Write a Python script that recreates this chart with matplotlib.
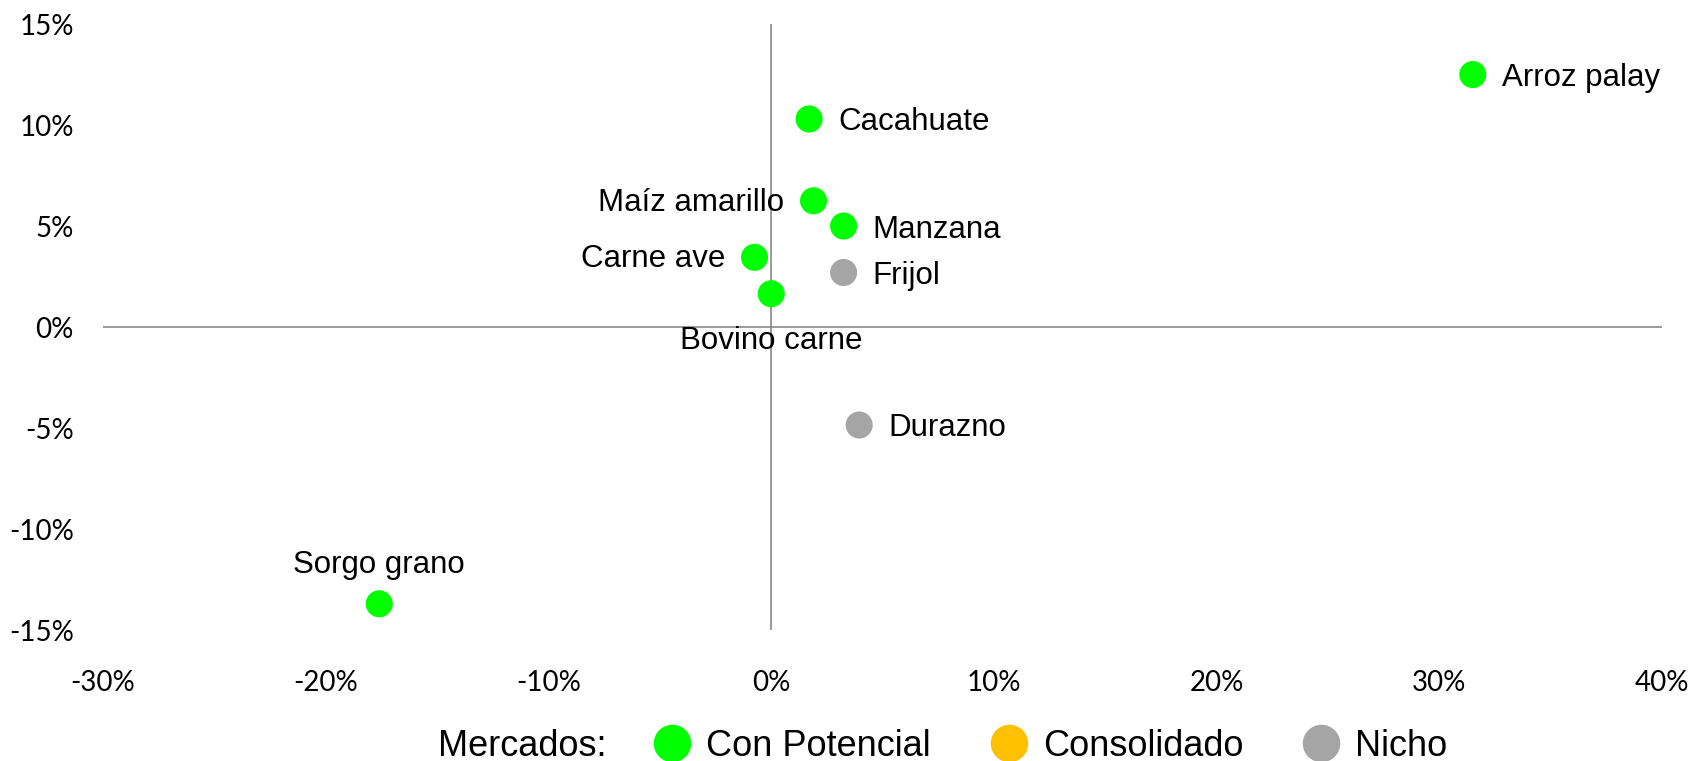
import matplotlib
matplotlib.use("Agg")
import matplotlib.pyplot as plt
from matplotlib.lines import Line2D
from matplotlib.ticker import FuncFormatter

# crecimiento (x) vs. participacion (y), en %
productos = ["Arroz palay", "Cacahuate", "Maíz amarillo", "Manzana", "Carne ave",
             "Bovino carne", "Frijol", "Durazno", "Sorgo grano"]
x_vals = [31.5, 1.7, 1.9, 3.25, -0.75, 0.0, 3.25, 3.95, -17.6]
y_vals = [12.5, 10.3, 6.25, 5.0, 3.45, 1.65, 2.7, -4.85, -13.7]
mercado = ["Con Potencial", "Con Potencial", "Con Potencial", "Con Potencial", "Con Potencial",
           "Con Potencial", "Nicho", "Nicho", "Con Potencial"]
pos_etiqueta = ["right", "right", "left", "right", "left", "below", "right", "right", "above"]

mercados = ["Con Potencial", "Consolidado", "Nicho"]
colores = {"Con Potencial": "#00FF00", "Consolidado": "#FFC000", "Nicho": "#A5A5A5"}

x_ticks = [-30, -20, -10, 0, 10, 20, 30, 40]
y_ticks = [-15, -10, -5, 0, 5, 10, 15]

fig = plt.figure(figsize=(16.95, 7.61), dpi=100)
ax = fig.add_axes([0.0608, 0.1721, 0.9198, 0.7963])

ax.axhline(0, color="#898989", lw=1.2, zorder=1)
ax.axvline(0, color="#898989", lw=1.2, zorder=1)

ax.scatter(x_vals, y_vals, s=380, c=[colores[m] for m in mercado], zorder=3, linewidths=0)

label_font = "Liberation Sans"
offsets = {"right": ((21, -2.5), "left", "center"),
           "left": ((-21, -1.5), "right", "center"),
           "below": ((0, -23), "center", "top"),
           "above": ((0, 17), "center", "bottom")}
for name, x, y, p in zip(productos, x_vals, y_vals, pos_etiqueta):
    off, ha, va = offsets[p]
    ax.annotate(name, (x, y), xytext=off, textcoords="offset points",
                ha=ha, va=va, fontsize=22.5, family=label_font, zorder=4)

ax.set_xlim(-30, 40)
ax.set_ylim(-15, 15)
ax.set_xticks(x_ticks)
ax.set_yticks(y_ticks)
pct = FuncFormatter(lambda v, _: f"{v:.0f}%")
ax.xaxis.set_major_formatter(pct)
ax.yaxis.set_major_formatter(pct)
for s in ax.spines.values():
    s.set_visible(False)
ax.tick_params(axis="both", length=0, labelsize=20)
ax.tick_params(axis="x", pad=29)
ax.tick_params(axis="y", pad=21)
for lab in ax.get_xticklabels() + ax.get_yticklabels():
    lab.set_family("Lato")

# leyenda
fig.text(438 / 1695, 1 - 747 / 761, "Mercados:", fontsize=26, family=label_font,
         ha="left", va="center")
handles = [Line2D([], [], ls="none", marker="o", markersize=27, markeredgewidth=0,
                  color=colores[m]) for m in mercados]
fig.legend(handles, mercados, loc="center left", bbox_to_anchor=(654 / 1695, 1 - 746 / 761),
           ncol=3, frameon=False, prop={"family": label_font, "size": 26},
           handlelength=1.0, handletextpad=0.45, columnspacing=1.65,
           borderpad=0, borderaxespad=0)

fig.savefig("out.png", dpi=100)
